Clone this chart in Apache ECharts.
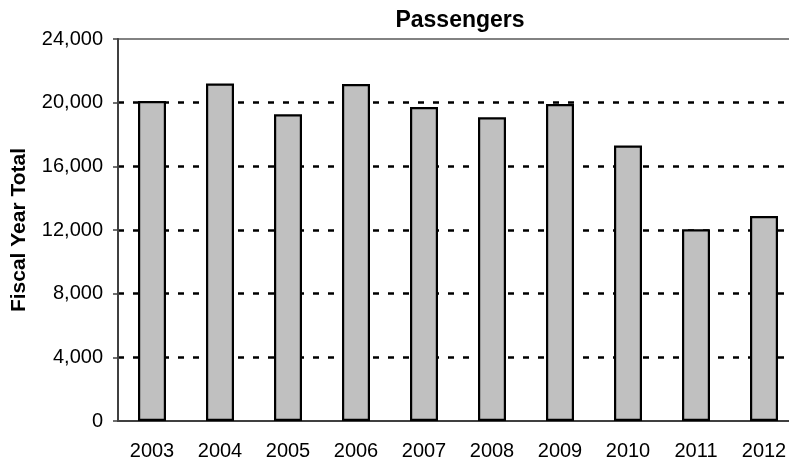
<!DOCTYPE html>
<html>
<head>
<meta charset="utf-8">
<script src="https://cdn.jsdelivr.net/npm/echarts@6/dist/echarts.min.js"></script>
<style>
  body { margin: 0; background: #fff; }
  #chart { width: 789px; height: 466px; }
</style>
</head>
<body>
<div id="chart"></div>
<script>
  // fiscal years and passenger totals
  const years = ['2003', '2004', '2005', '2006', '2007', '2008', '2009', '2010', '2011', '2012'];
  const passengers = [20100, 21200, 19270, 21170, 19730, 19080, 19910, 17310, 12040, 12880];
  const yTicks = { min: 0, max: 24000, interval: 4000 };

  const chart = echarts.init(document.getElementById('chart'));
  const font = 'Liberation Sans, Arial, sans-serif';

  const option = {
    animation: false,
    title: {
      text: 'Passengers',
      left: 455,
      top: 4,
      textAlign: 'center',
      textStyle: { fontFamily: font, fontSize: 23, fontWeight: 'bold', color: '#000' }
    },
    grid: {
      left: 118,
      top: 39,
      width: 680,
      height: 382,
      outerBoundsMode: 'none',
      containLabel: false,
      show: true,
      borderColor: '#5a5a5a',
      borderWidth: 1.5
    },
    xAxis: {
      type: 'category',
      data: years,
      axisLine: { lineStyle: { color: '#404040', width: 2 } },
      axisTick: { show: false },
      axisLabel: { color: '#000', fontFamily: font, fontSize: 20, margin: 20 }
    },
    yAxis: {
      type: 'value',
      min: yTicks.min,
      max: yTicks.max,
      interval: yTicks.interval,
      name: 'Fiscal Year Total',
      nameLocation: 'middle',
      nameGap: 88,
      nameTextStyle: { fontFamily: font, fontSize: 21, fontWeight: 'bold', color: '#000' },
      axisLine: { show: true, lineStyle: { color: '#404040', width: 2 } },
      axisTick: { show: true, length: 5, lineStyle: { color: '#404040', width: 1.5 } },
      axisLabel: {
        color: '#000', fontFamily: font, fontSize: 20, margin: 15,
        formatter: v => v.toLocaleString('en-US')
      },
      splitLine: {
        show: true,
        showMinLine: false,
        showMaxLine: false,
        lineStyle: { color: '#000', width: 2.5, type: [6, 9] }
      }
    },
    series: [{
      type: 'bar',
      data: passengers,
      barWidth: 28,
      itemStyle: { color: '#c0c0c0', borderColor: '#000', borderWidth: 2.2 }
    }]
  };

  chart.setOption(option);
</script>
</body>
</html>
